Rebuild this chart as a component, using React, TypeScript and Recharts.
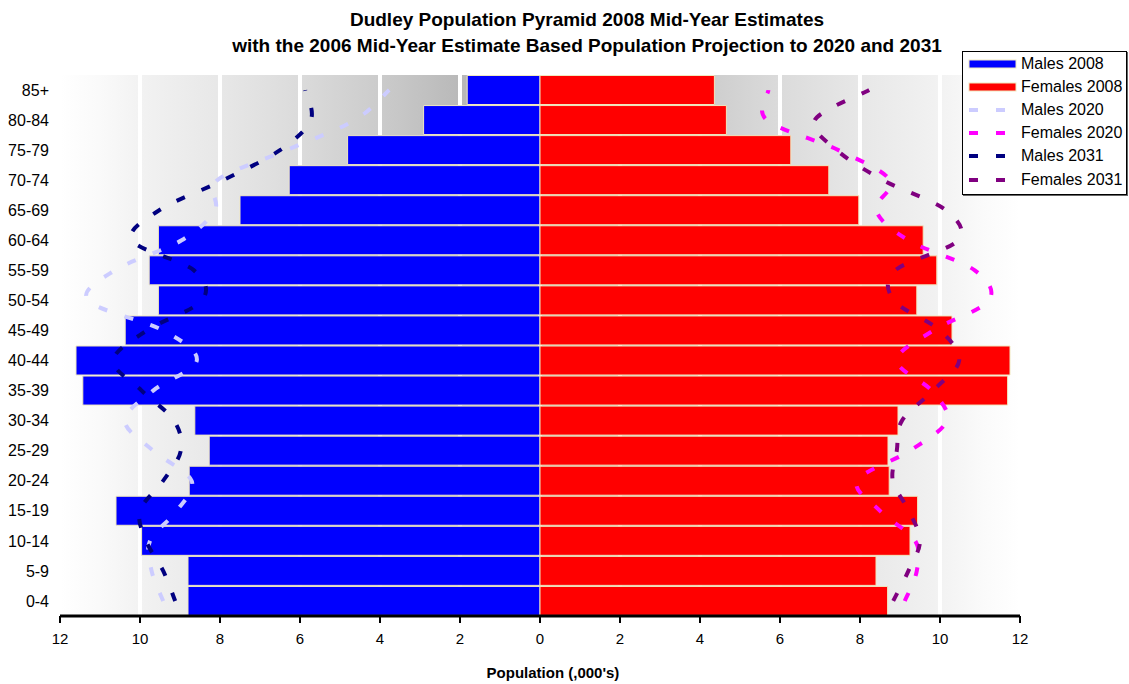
import React from 'react';
import { ComposedChart, Bar, Line, XAxis, YAxis, CartesianGrid, Legend } from 'recharts';

const FONT = '"Liberation Sans", Arial, sans-serif';

// age bands, youngest first (axis is reversed so 85+ sits on top)
const ageGroups = ['0-4', '5-9', '10-14', '15-19', '20-24', '25-29', '30-34', '35-39', '40-44', '45-49', '50-54', '55-59', '60-64', '65-69', '70-74', '75-79', '80-84', '85+'];

// population, thousands
const males2008 = [8.8, 8.8, 9.96, 10.6, 8.77, 8.27, 8.63, 11.43, 11.6, 10.37, 9.54, 9.77, 9.54, 7.5, 6.27, 4.81, 2.91, 1.82];
const females2008 = [8.69, 8.4, 9.25, 9.44, 8.73, 8.7, 8.95, 11.69, 11.75, 10.3, 9.42, 9.92, 9.58, 7.97, 7.22, 6.27, 4.66, 4.36];
const males2020 = [9.42, 9.71, 9.75, 9.08, 8.71, 9.67, 10.38, 9.67, 8.58, 9.42, 11.3, 10.63, 8.96, 8.13, 8.07, 6.33, 4.63, 3.77];
const females2020 = [9.12, 9.42, 9.38, 8.5, 7.93, 9.25, 10.17, 9.79, 8.92, 9.83, 11.22, 10.87, 9.21, 8.4, 8.75, 7.46, 5.67, 5.71];
const males2031 = [9.12, 9.42, 9.85, 10.0, 9.42, 8.98, 9.15, 9.96, 10.67, 9.83, 8.45, 8.65, 10.2, 9.52, 7.92, 6.5, 5.73, 5.87];
const females2031 = [8.83, 9.21, 9.5, 9.22, 8.82, 8.92, 9.05, 9.83, 10.48, 10.0, 8.85, 8.88, 10.45, 10.15, 8.58, 7.42, 6.87, 8.23];

const xTicks = [-12, -10, -8, -6, -4, -2, 0, 2, 4, 6, 8, 10, 12];

// males go left of zero
const chartData = ageGroups.map((age, i) => ({
  age,
  m2008: -males2008[i],
  f2008: females2008[i],
  m2020: -males2020[i],
  f2020: females2020[i],
  m2031: -males2031[i],
  f2031: females2031[i],
}));

const barSeries = [
  { key: 'm2008', name: 'Males 2008', color: '#0000ff' },
  { key: 'f2008', name: 'Females 2008', color: '#ff0000' },
];

const lineSeries = [
  { key: 'm2020', name: 'Males 2020', color: '#ccccff' },
  { key: 'f2020', name: 'Females 2020', color: '#ff00ff' },
  { key: 'm2031', name: 'Males 2031', color: '#000080' },
  { key: 'f2031', name: 'Females 2031', color: '#800080' },
];

const DASH = '9 18';

// excel-like smoothing (catmull-rom through every point)
const smoothCurve = (context: any) => {
  let pts: number[][] = [];
  return {
    areaStart() {},
    areaEnd() {},
    lineStart() {
      pts = [];
    },
    point(x: number, y: number) {
      pts.push([+x, +y]);
    },
    lineEnd() {
      const n = pts.length;
      if (!n) return;
      context.moveTo(pts[0][0], pts[0][1]);
      for (let i = 0; i < n - 1; i++) {
        const p0 = pts[i - 1] || pts[i];
        const p1 = pts[i];
        const p2 = pts[i + 1];
        const p3 = pts[i + 2] || p2;
        context.bezierCurveTo(
          p1[0] + (p2[0] - p0[0]) / 6,
          p1[1] + (p2[1] - p0[1]) / 6,
          p2[0] - (p3[0] - p1[0]) / 6,
          p2[1] - (p3[1] - p1[1]) / 6,
          p2[0],
          p2[1]
        );
      }
    },
  };
};

const renderLegend = () => (
  <div
    style={{
      border: '1px solid #000',
      background: '#fff',
      boxShadow: '1px 1px 0 #666',
      width: 163,
      paddingBottom: 3,
      fontFamily: FONT,
      fontSize: 16,
      color: '#000',
    }}
  >
    {barSeries.map((s) => (
      <div key={s.key} style={{ display: 'flex', alignItems: 'center', height: 23.2 }}>
        <svg width={58} height={12}>
          <rect x={6} y={2} width={47} height={8} fill={s.color} stroke="#f0e8c0" strokeWidth={1} />
        </svg>
        <span>{s.name}</span>
      </div>
    ))}
    {lineSeries.map((s) => (
      <div key={s.key} style={{ display: 'flex', alignItems: 'center', height: 23.2 }}>
        <svg width={58} height={12}>
          <line x1={6} x2={53} y1={6} y2={6} stroke={s.color} strokeWidth={4} strokeDasharray={DASH} />
        </svg>
        <span>{s.name}</span>
      </div>
    ))}
  </div>
);

export default function App() {
  return (
    <div style={{ position: 'absolute', left: 0, top: 0, width: 1129, height: 684, background: '#fff', fontFamily: FONT }}>
      <ComposedChart
        width={1129}
        height={684}
        data={chartData}
        layout="vertical"
        stackOffset="sign"
        barCategoryGap={0.5}
        margin={{ top: 75, right: 109, bottom: 38, left: 0 }}
      >
        <defs>
          <linearGradient id="plotBg" x1="0" y1="0" x2="1" y2="0">
            <stop offset="0" stopColor="#ffffff" />
            <stop offset="0.04" stopColor="#fafafa" />
            <stop offset="0.09" stopColor="#f1f1f1" />
            <stop offset="0.17" stopColor="#e7e7e7" />
            <stop offset="0.25" stopColor="#dbdbdb" />
            <stop offset="0.33" stopColor="#cccccc" />
            <stop offset="0.42" stopColor="#b8b8b8" />
            <stop offset="0.5" stopColor="#a8a8a8" />
            <stop offset="0.58" stopColor="#b8b8b8" />
            <stop offset="0.67" stopColor="#cccccc" />
            <stop offset="0.75" stopColor="#dbdbdb" />
            <stop offset="0.83" stopColor="#e7e7e7" />
            <stop offset="0.91" stopColor="#f1f1f1" />
            <stop offset="0.96" stopColor="#fafafa" />
            <stop offset="1" stopColor="#ffffff" />
          </linearGradient>
        </defs>
        <CartesianGrid horizontal={false} stroke="#ffffff" strokeWidth={4} fill="url(#plotBg)" fillOpacity={1} />
        <XAxis
          type="number"
          domain={[-12, 12]}
          ticks={xTicks}
          tickFormatter={(v: number) => String(Math.abs(v))}
          axisLine={{ stroke: '#000', strokeWidth: 3 }}
          tickLine={{ stroke: '#000', strokeWidth: 2 }}
          tickSize={7}
          tickMargin={10}
          tick={{ fill: '#000', fontSize: 15, fontFamily: FONT }}
          allowDataOverflow
        />
        <YAxis
          type="category"
          dataKey="age"
          reversed
          width={60}
          axisLine={false}
          tickLine={false}
          tickMargin={5}
          interval={0}
          tick={{ fill: '#000', fontSize: 16, fontFamily: FONT }}
        />
        {barSeries.map((s) => (
          <Bar
            key={s.key}
            dataKey={s.key}
            name={s.name}
            stackId="pop"
            fill={s.color}
            stroke="#f0e8c0"
            strokeWidth={1}
            isAnimationActive={false}
          />
        ))}
        {lineSeries.map((s) => (
          <Line
            key={s.key}
            dataKey={s.key}
            name={s.name}
            type={smoothCurve as any}
            stroke={s.color}
            strokeWidth={4}
            strokeDasharray={DASH}
            dot={false}
            activeDot={false}
            isAnimationActive={false}
          />
        ))}
        <Legend
          layout="vertical"
          align="center"
          verticalAlign="middle"
          content={renderLegend}
          wrapperStyle={{ left: 962, top: 51, width: 'auto' }}
        />
      </ComposedChart>
      <div
        style={{
          position: 'absolute',
          left: 0,
          top: 7,
          width: 1129,
          paddingLeft: 45,
          boxSizing: 'border-box',
          textAlign: 'center',
          fontWeight: 'bold',
          fontSize: 19,
          lineHeight: '26px',
          color: '#000',
        }}
      >
        <div>Dudley Population Pyramid 2008 Mid-Year Estimates</div>
        <div>with the 2006 Mid-Year Estimate Based Population Projection to 2020 and 2031</div>
      </div>
      <div
        style={{
          position: 'absolute',
          left: 453,
          top: 664,
          width: 200,
          textAlign: 'center',
          fontWeight: 'bold',
          fontSize: 15,
          lineHeight: '18px',
          color: '#000',
        }}
      >
        Population (,000's)
      </div>
    </div>
  );
}
